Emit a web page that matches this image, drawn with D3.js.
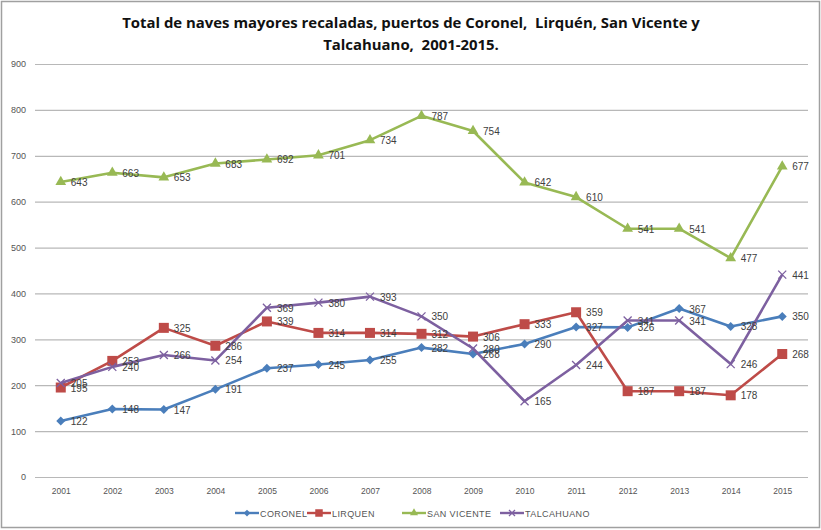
<!DOCTYPE html>
<html><head><meta charset="utf-8">
<script src="https://cdn.jsdelivr.net/npm/d3@7/dist/d3.min.js"></script>
<style>body{margin:0;background:#fff}svg{display:block}</style>
</head><body>
<svg id="c" width="821" height="530"></svg>
<script>
const years = ["2001","2002","2003","2004","2005","2006","2007","2008","2009","2010","2011","2012","2013","2014","2015"];
const coronel = [122,148,147,191,237,245,255,282,268,290,327,326,367,328,350];
const lirquen = [195,253,325,286,339,314,314,312,306,333,359,187,187,178,268];
const sanVicente = [643,663,653,683,692,701,734,787,754,642,610,541,541,477,677];
const talcahuano = [205,240,266,254,369,380,393,350,280,165,244,341,341,246,441];
const yTicks = [0,100,200,300,400,500,600,700,800,900];
const seriesNames = ["CORONEL","LIRQUEN","SAN VICENTE","TALCAHUANO"];
const colors = ["#4A7EBB","#BE4B48","#98B954","#7D60A0"];
const markers = ["diamond","square","triangle","x"];
const seriesData = [coronel, lirquen, sanVicente, talcahuano];

const svg = d3.select("#c");
svg.append("rect").attr("x",1.5).attr("y",1.5).attr("width",818).attr("height",526)
  .attr("fill","#fff").attr("stroke","#a0a0a0").attr("stroke-width",1.5);

const x = d3.scalePoint().domain(years).range([35,808]).padding(0.5);
const y = d3.scaleLinear().domain([0,900]).range([477,64]);

// title
const title = svg.append("g").attr("font-family","'Open Sans', sans-serif").attr("font-weight","bold").attr("fill","#111");
const t1 = title.append("text").attr("x",411).attr("y",28).attr("text-anchor","middle").attr("font-size",14)
  .text("Total de naves mayores recaladas, puertos de Coronel,\u00a0 Lirquén, San Vicente y");
const t2 = title.append("text").attr("x",411).attr("y",50).attr("text-anchor","middle").attr("font-size",14)
  .text("Talcahuano,\u00a0 2001-2015.");
const w1 = t1.node().getComputedTextLength();
const fs = 14*578/w1;
t1.attr("font-size",fs); t2.attr("font-size",fs);

// grid
const grid = d3.axisLeft(y).tickValues(yTicks).tickSize(-(808-35)).tickFormat("");
svg.append("g").attr("transform","translate(35,0)").call(grid)
  .call(g=>g.select(".domain").remove())
  .call(g=>g.selectAll("line").attr("stroke","#b8b8b8").attr("stroke-width",1.2));

// y labels
const ya = d3.axisLeft(y).tickValues(yTicks).tickSize(0).tickPadding(9);
svg.append("g").attr("transform","translate(35,0)").call(ya)
  .call(g=>g.select(".domain").remove())
  .call(g=>g.selectAll("text").attr("font-family","'Liberation Sans', sans-serif").attr("font-size",9).attr("fill","#555"));

// x labels
const xa = d3.axisBottom(x).tickSize(0).tickPadding(11);
svg.append("g").attr("transform","translate(0,477)").call(xa)
  .call(g=>g.select(".domain").remove())
  .call(g=>g.selectAll("text").attr("font-family","'Liberation Sans', sans-serif").attr("font-size",8.5).attr("fill","#555"));

function drawMarker(g, type, color, cx, cy, k){
  k = k || 1;
  if(type==="diamond"){
    const s = 4.5*k;
    g.append("path").attr("d",`M${cx},${cy-s}L${cx+s},${cy}L${cx},${cy+s}L${cx-s},${cy}Z`).attr("fill",color);
  } else if(type==="square"){
    const s = 5*k;
    g.append("rect").attr("x",cx-s).attr("y",cy-s).attr("width",2*s).attr("height",2*s).attr("fill",color);
  } else if(type==="triangle"){
    g.append("path").attr("d",d3.symbol(d3.symbolTriangle, 50*k*k)()).attr("transform",`translate(${cx},${cy})`).attr("fill",color);
  } else {
    const s = 4*k;
    g.append("path").attr("d",`M${cx-s},${cy-s}L${cx+s},${cy+s}M${cx-s},${cy+s}L${cx+s},${cy-s}`).attr("stroke",color).attr("stroke-width",1.3).attr("fill","none");
  }
}

const line = d3.line().x((d,i)=>x(years[i])).y(d=>y(d));
seriesData.forEach((data,si)=>{
  const g = svg.append("g");
  g.append("path").datum(data).attr("d",line).attr("fill","none").attr("stroke",colors[si]).attr("stroke-width",2.6).attr("stroke-linejoin","round");
  data.forEach((v,i)=>drawMarker(g, markers[si], colors[si], x(years[i]), y(v)));
});
// data labels
seriesData.forEach((data,si)=>{
  svg.append("g").selectAll("text").data(data).join("text")
    .attr("x",(d,i)=>x(years[i])+10).attr("y",d=>y(d)+4)
    .attr("font-family","'Liberation Sans', sans-serif").attr("font-size",10).attr("fill","#404040")
    .text(d=>d);
});

// legend
const legX = [235,307,402,500];
const leg = svg.append("g");
seriesNames.forEach((n,i)=>{
  const lx = legX[i], ly = 513;
  leg.append("line").attr("x1",lx).attr("x2",lx+24).attr("y1",ly).attr("y2",ly).attr("stroke",colors[i]).attr("stroke-width",2.4);
  drawMarker(leg, markers[i], colors[i], lx+12, ly, 0.75);
  leg.append("text").attr("x",lx+25).attr("y",ly+3.5).attr("font-family","'Liberation Sans', sans-serif")
    .attr("font-size",9).attr("fill","#555").attr("letter-spacing",0.4).text(n);
});
</script>
</body></html>
